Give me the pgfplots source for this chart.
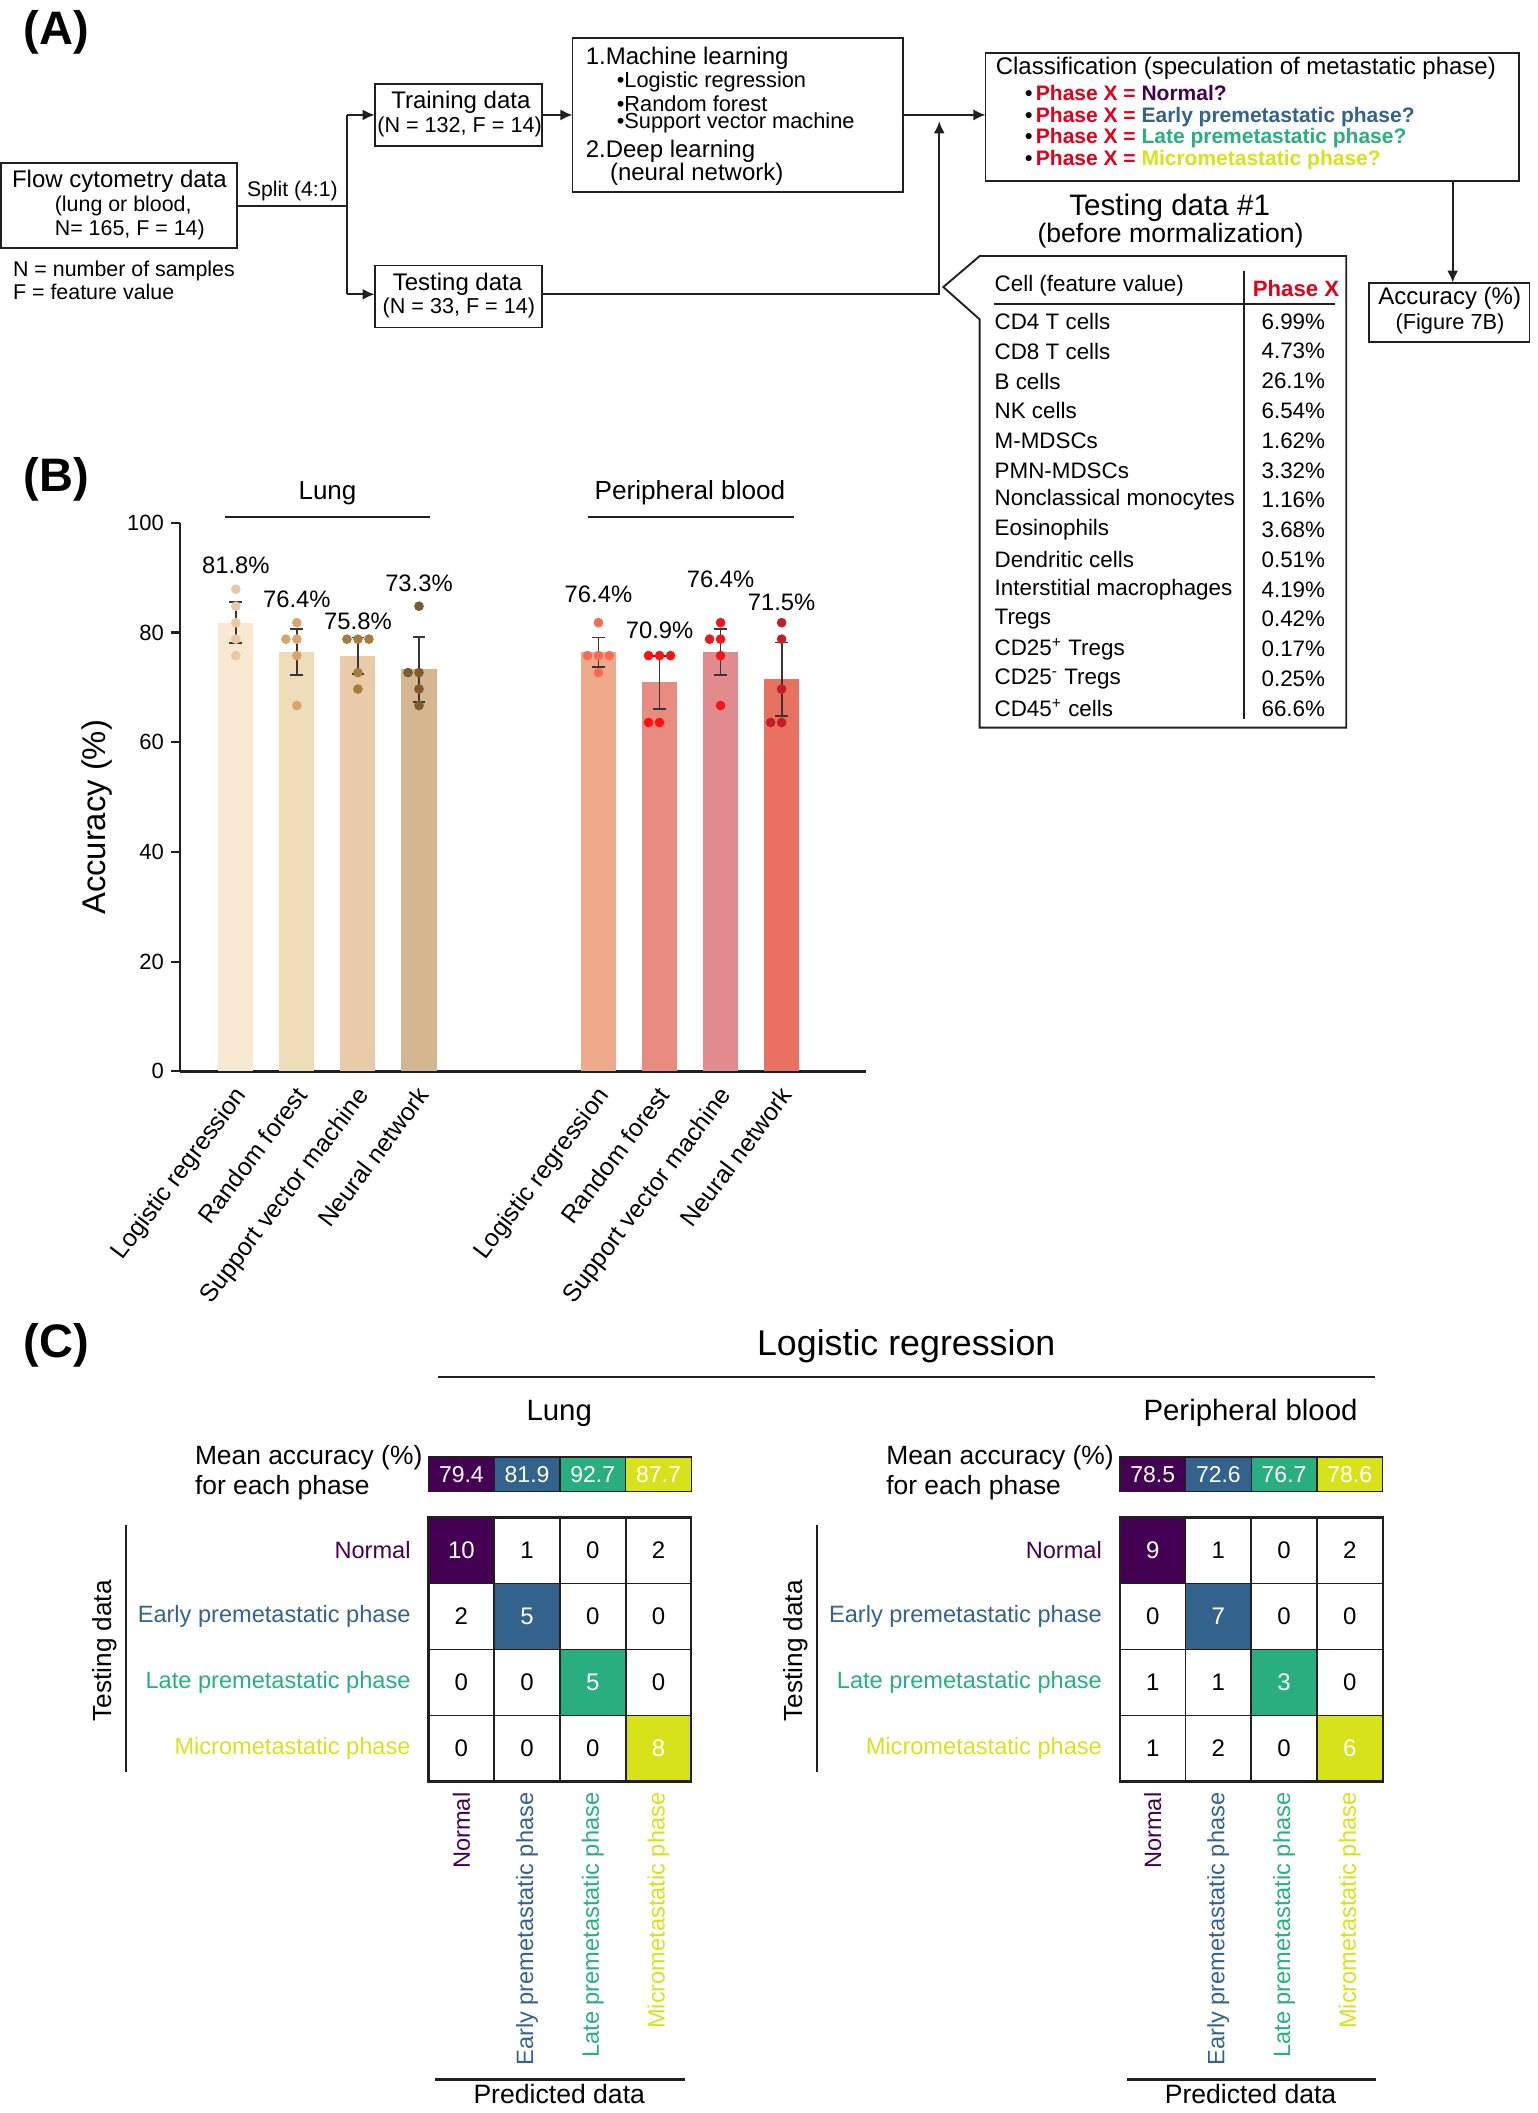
\documentclass[border=0pt]{standalone}
\usepackage{fontspec}
\setmainfont{Liberation Sans}
\usepackage{pgfplots}
\pgfplotsset{compat=1.18}
\usepackage{pgfplotstable}
\usetikzlibrary{arrows.meta}

\newcommand{\fz}[2]{\fontsize{#1}{#2}\selectfont}
\pgfdeclareplotmark{blank}{}

\definecolor{ink}{HTML}{231F20}
\definecolor{cRed}{HTML}{E2001A}
\definecolor{cPur}{HTML}{440154}
\definecolor{cBlu}{HTML}{33638D}
\definecolor{cGrn}{HTML}{29AF7F}
\definecolor{cYel}{HTML}{D8E21B}
% bars
\definecolor{bL1}{HTML}{F9E9D3}
\definecolor{bL2}{HTML}{EFDCB9}
\definecolor{bL3}{HTML}{E9CBA9}
\definecolor{bL4}{HTML}{D4B790}
\definecolor{bB1}{HTML}{EEA98B}
\definecolor{bB2}{HTML}{E88C82}
\definecolor{bB3}{HTML}{E28B8F}
\definecolor{bB4}{HTML}{E8725F}
% fold dots
\definecolor{dL1}{HTML}{E9C8A6}
\definecolor{dL2}{HTML}{DAA56D}
\definecolor{dL3}{HTML}{A57D3C}
\definecolor{dL4}{HTML}{7D5B2C}
\definecolor{dB1}{HTML}{F86B50}
\definecolor{dB2}{HTML}{FD1111}
\definecolor{dB3}{HTML}{F0161F}
\definecolor{dB4}{HTML}{C51D28}

% confusion matrices: y = testing phase (0 = Normal, top row), x = predicted
\pgfplotstableread{
x y c n
0 0 1 10
1 0 0 1
2 0 0 0
3 0 0 2
0 1 0 2
1 1 2 5
2 1 0 0
3 1 0 0
0 2 0 0
1 2 0 0
2 2 3 5
3 2 0 0
0 3 0 0
1 3 0 0
2 3 0 0
3 3 4 8
}\lungcm
\pgfplotstableread{
x y c n
0 0 1 9
1 0 0 1
2 0 0 0
3 0 0 2
0 1 0 0
1 1 2 7
2 1 0 0
3 1 0 0
0 2 0 1
1 2 0 1
2 2 3 3
3 2 0 0
0 3 0 1
1 3 0 2
2 3 0 0
3 3 4 6
}\bloodcm
\pgfplotstableread{
x y n
0 0.5 79.4
1 0.5 81.9
2 0.5 92.7
3 0.5 87.7
}\lungmean
\pgfplotstableread{
x y n
0 0.5 78.5
1 0.5 72.6
2 0.5 76.7
3 0.5 78.6
}\bloodmean

\pgfplotsset{
  cmat/.style={
    scale only axis, width=131.43pt, height=132.1pt,
    xmin=-0.5, xmax=3.5, ymin=-0.5, ymax=3.5,
    xtick={0,1,2,3}, ytick={0,1,2,3},
    minor xtick={0.5,1.5,2.5}, minor ytick={0.5,1.5,2.5},
    grid=minor, minor grid style={draw=ink, line width=0.9pt},
    major tick length=0pt, minor tick length=0pt,
    axis line style={draw=ink, line width=1.1pt},
    axis on top,
    xticklabels={\textcolor{cPur}{Normal},\textcolor{cBlu}{Early premetastatic phase},\textcolor{cGrn}{Late premetastatic phase},\textcolor{cYel}{Micrometastatic phase}},
    yticklabels={\textcolor{cPur}{Normal},\textcolor{cBlu}{Early premetastatic phase},\textcolor{cGrn}{Late premetastatic phase},\textcolor{cYel}{Micrometastatic phase}},
    xticklabel style={font=\fz{11.8}{14}, rotate=90, anchor=east, inner xsep=5.4pt, inner ysep=0pt},
    yticklabel style={font=\fz{11.8}{14}, anchor=east, inner xsep=8.8pt, inner ysep=0pt},
    colormap={vir}{color(0cm)=(white) color(1cm)=(cPur) color(2cm)=(cBlu) color(3cm)=(cGrn) color(4cm)=(cYel)},
    point meta min=0, point meta max=4,
  },
  cstrip/.style={
    scale only axis, width=131.43pt, height=17.19pt,
    xmin=-0.5, xmax=3.5, ymin=0, ymax=1,
    xtick=\empty, ytick=\empty,
    axis line style={draw=ink, line width=0.8pt},
    axis on top,
  },
  cnum/.style={only marks, mark=blank,
    point meta=explicit symbolic, nodes near coords, nodes near coords align={center},
    every node near coord/.append style={font=\fz{12}{14}, text=#1, inner sep=0pt}},
  cell/.style={ybar, bar width=1, bar shift=0pt, fill=#1, draw=ink, line width=0.6pt},
}

\begin{document}
\begin{tikzpicture}
\useasboundingbox (0,0) rectangle (769.03pt,-1056.83pt);

\begin{scope}[x=0.674pt, y=-0.674pt, every node/.style={inner sep=0pt},
  line width=0.95pt, draw=ink, arr/.style={-{Latex[length=6pt,width=5.5pt]}}]
% ---------------- (A) flow chart
\node[anchor=west, font=\fz{23.5}{26}\bfseries] at (17,24) {(A)};
\draw (1,121) rectangle (176,184);
\node[font=\fz{12}{14}] at (88.6,134.8) {Flow cytometry data};
\node[anchor=west, font=\fz{10.7}{13}] at (40,153) {(lung or blood,};
\node[anchor=west, font=\fz{10.7}{13}] at (40,170.5) {N= 165, F = 14)};
\node[anchor=west, font=\fz{10.7}{13}] at (9,201) {N = number of samples};
\node[anchor=west, font=\fz{10.7}{13}] at (9,216.5) {F = feature value};
\draw (176,152.6) -- (257.6,152.6);
\node[anchor=west, font=\fz{10.6}{13}] at (182.6,141.5) {Split (4:1)};
\draw (257.6,85.3) -- (257.6,218.4);
\draw[arr] (257.6,85.3) -- (278,85.3);
\draw[arr] (257.6,218.4) -- (278,218.4);
\draw (278,62.3) rectangle (402.5,108.3);
\node[font=\fz{12}{14}] at (342,76) {Training data};
\node[font=\fz{10.8}{13}] at (341,94) {(N = 132, F = 14)};
\draw[arr] (402.5,85.3) -- (424.8,85.3);
\draw (424.8,28.4) rectangle (670,142.7);
\node[anchor=west, font=\fz{12}{14}] at (434,43) {1.Machine learning};
\node[anchor=west, font=\fz{10.9}{13}] at (457,61) {•Logistic regression};
\node[anchor=west, font=\fz{10.9}{13}] at (457,77) {•Random forest};
\node[anchor=west, font=\fz{10.9}{13}] at (457,91.5) {•Support vector machine};
\node[anchor=west, font=\fz{12}{14}] at (434,112.5) {2.Deep learning};
\node[anchor=west, font=\fz{12}{14}] at (452,129.5) {(neural network)};
\draw[arr] (670,85.3) -- (731.3,85.3);
\draw (278,197) rectangle (402.5,243);
\node[font=\fz{12}{14}] at (339.5,210.7) {Testing data};
\node[font=\fz{10.8}{13}] at (340.5,228.7) {(N = 33, F = 14)};
\draw[arr] (402.5,218.4) -- (697,218.4) -- (697,90);

\draw (731.3,39.6) rectangle (1127,134.3);
\node[font=\fz{12}{14}] at (924.5,50.7) {Classification (speculation of metastatic phase)};
\node[anchor=west, font=\fz{10.5}{12}\bfseries] at (760,69.2) {•\,\textcolor{cRed}{Phase X =} \textcolor{cPur}{Normal?}};
\node[anchor=west, font=\fz{10.5}{12}\bfseries] at (760,86.6) {•\,\textcolor{cRed}{Phase X =} \textcolor{cBlu}{Early premetastatic phase?}};
\node[anchor=west, font=\fz{10.5}{12}\bfseries] at (760,102.6) {•\,\textcolor{cRed}{Phase X =} \textcolor{cGrn}{Late premetastatic phase?}};
\node[anchor=west, font=\fz{10.5}{12}\bfseries] at (760,118.7) {•\,\textcolor{cRed}{Phase X =} \textcolor{cYel}{Micrometastatic phase?}};
\draw[arr] (1078,134.3) -- (1078,209.7);
\draw (1016,209.7) rectangle (1135,253.5);
\node[font=\fz{12}{14}] at (1075.8,221) {Accuracy (\%)};
\node[font=\fz{10.9}{13}] at (1076,240.4) {(Figure 7B)};

\node[font=\fz{14.8}{17}] at (868,154.6) {Testing data \#1};
\node[font=\fz{13.3}{16}] at (868.6,175) {(before mormalization)};
\draw (727,190) -- (999,190) -- (999,540) -- (727,540) -- (727,237) -- (700,213) -- cycle;
\node[anchor=west, font=\fz{11.2}{13}] at (737.4,212) {Cell (feature value)};
\node[anchor=west, font=\fz{11.1}{13}\bfseries, text=cRed] at (929,214.5) {Phase X};
\draw (737.4,225.8) -- (991,225.8);
\draw (923,201) -- (923,533.7);
\foreach \nm/\vl [count=\i from 0] in {CD4 T cells/6.99\%, CD8 T cells/4.73\%, B cells/26.1\%,
  NK cells/6.54\%, M-MDSCs/1.62\%, PMN-MDSCs/3.32\%, Nonclassical monocytes/1.16\%,
  Eosinophils/3.68\%, Dendritic cells/0.51\%, Interstitial macrophages/4.19\%, Tregs/0.42\%,
  CD25\textsuperscript{+} Tregs/0.17\%, CD25\textsuperscript{-} Tregs/0.25\%, CD45\textsuperscript{+} cells/66.6\%} {
  \node[anchor=west, font=\fz{11.2}{13}] at (737.4,{238.6+22.08*\i}) {\nm};
  \node[anchor=east, font=\fz{11.2}{13}] at (984,{238.6+22.08*\i}) {\vl};
}

% ---------------- (B) headings
\node[anchor=west, font=\fz{23.5}{26}\bfseries] at (17,356) {(B)};
\node[font=\fz{13}{15}] at (243,366) {Lung};
\draw[line width=1.1pt] (167,383.6) -- (319,383.6);
\node[font=\fz{13.1}{15}] at (512,366) {Peripheral blood};
\draw[line width=1.1pt] (436,383.6) -- (589,383.6);

% ---------------- (C) headings
\node[anchor=west, font=\fz{23.5}{26}\bfseries] at (17,998) {(C)};
\node[font=\fz{17.9}{20}] at (672.5,999) {Logistic regression};
\draw[line width=1.3pt] (324.7,1021.8) -- (1020.3,1021.8);
\foreach \dx/\nm in {0/Lung, 513/Peripheral blood} {
  \node[font=\fz{14.7}{17}] at (415+\dx,1048.5) {\nm};
  \node[anchor=west, font=\fz{13.2}{15}] at (144+\dx,1081.8) {Mean accuracy (\%)};
  \node[anchor=west, font=\fz{13.2}{15}] at (144+\dx,1104) {for each phase};
  \node[rotate=90, font=\fz{13.1}{15}] at (77.5+\dx,1225) {Testing data};
  \draw[line width=1pt] (93.6+\dx,1132) -- (93.6+\dx,1315);
  \draw[line width=1.2pt] (323+\dx,1543) -- (508+\dx,1543);
  \node[font=\fz{13.3}{15}] at (415+\dx,1554) {Predicted data};
}
\end{scope}

% ---------------- (B) bar chart
\begin{axis}[
  at={(89.98pt,-535.83pt)}, anchor=south west,
  scale only axis, width=343.4pt, height=274.32pt,
  xmin=-0.916, xmax=10.33, ymin=0, ymax=100,
  axis x line*=bottom, axis y line*=left,
  axis line style={draw=ink, line width=1.2pt},
  ytick={0,20,40,60,80,100},
  tick align=outside, major tick length=4.5pt,
  ytick style={draw=ink, line width=1.1pt},
  xtick={0,1,2,3,5.94,6.94,7.94,8.94},
  xticklabels={Logistic regression,Random forest,Support vector machine,Neural network,Logistic regression,Random forest,Support vector machine,Neural network},
  xtick style={draw=none},
  xticklabel style={font=\fz{12.4}{14}, inner sep=0pt, xshift=-1.5pt, yshift=-2pt, rotate=53, anchor=north east},
  yticklabel style={font=\fz{11}{13}},
  /pgf/number format/assume math mode=true,
  ylabel={Accuracy (\%)},
  every axis y label/.style={at={(axis description cs:-0.1207,0.463)}, rotate=90, anchor=center, font=\fz{16.4}{19}},
  clip=false,
  bbar/.style={ybar, bar width=0.574, bar shift=0pt, draw=none, fill=#1,
    error bars/y dir=both, error bars/y explicit,
    error bars/error bar style={draw=ink!90, line width=0.9pt},
    error bars/error mark options={draw=ink!90, line width=0.9pt, mark size=3.2pt, rotate=90}},
  dots/.style={only marks, mark=*, mark size=2.2pt, color=#1},
]
\addplot[bbar=bL1] coordinates {(0,81.8) +- (0,3.7)};
\addplot[bbar=bL2] coordinates {(1,76.4) +- (0,4.2)};
\addplot[bbar=bL3] coordinates {(2,75.8) +- (0,3.3)};
\addplot[bbar=bL4] coordinates {(3,73.3) +- (0,5.9)};
\addplot[bbar=bB1] coordinates {(5.94,76.4) +- (0,2.7)};
\addplot[bbar=bB2] coordinates {(6.94,70.9) +- (0,4.8)};
\addplot[bbar=bB3] coordinates {(7.94,76.4) +- (0,4.2)};
\addplot[bbar=bB4] coordinates {(8.94,71.5) +- (0,6.7)};

\addplot[dots=dL1] coordinates {(0,87.9) (0,84.8) (0,81.8) (0,78.8) (0,75.8)};
\addplot[dots=dL2] coordinates {(1,81.8) (0.82,78.8) (1,78.8) (1,75.8) (1,66.7)};
\addplot[dots=dL3] coordinates {(1.82,78.8) (2,78.8) (2.18,78.8) (2,72.7) (2,69.7)};
\addplot[dots=dL4] coordinates {(3,84.8) (2.82,72.7) (3,72.7) (3,69.7) (3,66.7)};
\addplot[dots=dB1] coordinates {(5.94,81.8) (5.76,75.8) (5.94,75.8) (6.12,75.8) (5.94,72.7)};
\addplot[dots=dB2] coordinates {(6.76,75.8) (6.94,75.8) (7.12,75.8) (6.76,63.6) (6.94,63.6)};
\addplot[dots=dB3] coordinates {(7.94,81.8) (7.76,78.8) (7.94,78.8) (7.94,75.8) (7.94,66.7)};
\addplot[dots=dB4] coordinates {(8.94,81.8) (8.94,78.8) (8.94,69.7) (8.76,63.6) (8.94,63.6)};

\node[font=\fz{11.9}{14}] at (axis cs:0,92.2) {81.8\%};
\node[font=\fz{11.9}{14}] at (axis cs:1,86.1) {76.4\%};
\node[font=\fz{11.9}{14}] at (axis cs:2,82.1) {75.8\%};
\node[font=\fz{11.9}{14}] at (axis cs:3,88.9) {73.3\%};
\node[font=\fz{11.9}{14}] at (axis cs:5.94,86.9) {76.4\%};
\node[font=\fz{11.9}{14}] at (axis cs:6.94,80.4) {70.9\%};
\node[font=\fz{11.9}{14}] at (axis cs:7.94,89.7) {76.4\%};
\node[font=\fz{11.9}{14}] at (axis cs:8.94,85.5) {71.5\%};
\end{axis}

% ---------------- (C) mean accuracy strips
\begin{axis}[cstrip, at={(214.33pt,-745.98pt)}, anchor=south west]
\addplot[cell=cPur] coordinates {(0,1)};
\addplot[cell=cBlu] coordinates {(1,1)};
\addplot[cell=cGrn] coordinates {(2,1)};
\addplot[cell=cYel] coordinates {(3,1)};
\addplot[cnum=white, every node near coord/.append style={font=\fz{11.5}{13}}] table[x=x, y=y, meta=n] {\lungmean};
\end{axis}
\begin{axis}[cstrip, at={(560.09pt,-745.98pt)}, anchor=south west]
\addplot[cell=cPur] coordinates {(0,1)};
\addplot[cell=cBlu] coordinates {(1,1)};
\addplot[cell=cGrn] coordinates {(2,1)};
\addplot[cell=cYel] coordinates {(3,1)};
\addplot[cnum=white, every node near coord/.append style={font=\fz{11.5}{13}}] table[x=x, y=y, meta=n] {\bloodmean};
\end{axis}

% ---------------- (C) confusion matrices
\begin{axis}[cmat, at={(214.33pt,-891.03pt)}, anchor=south west]
\addplot[matrix plot, mesh/cols=4, point meta=explicit] table[x=x, y=y, meta=c] {\lungcm};
\addplot[cnum=black, restrict expr to domain={\thisrow{c}}{-0.5:0.5}] table[x=x, y=y, meta=n] {\lungcm};
\addplot[cnum=white, restrict expr to domain={\thisrow{c}}{0.5:4.5}] table[x=x, y=y, meta=n] {\lungcm};
\end{axis}
\begin{axis}[cmat, at={(560.09pt,-891.03pt)}, anchor=south west]
\addplot[matrix plot, mesh/cols=4, point meta=explicit] table[x=x, y=y, meta=c] {\bloodcm};
\addplot[cnum=black, restrict expr to domain={\thisrow{c}}{-0.5:0.5}] table[x=x, y=y, meta=n] {\bloodcm};
\addplot[cnum=white, restrict expr to domain={\thisrow{c}}{0.5:4.5}] table[x=x, y=y, meta=n] {\bloodcm};
\end{axis}
\end{tikzpicture}
\end{document}
